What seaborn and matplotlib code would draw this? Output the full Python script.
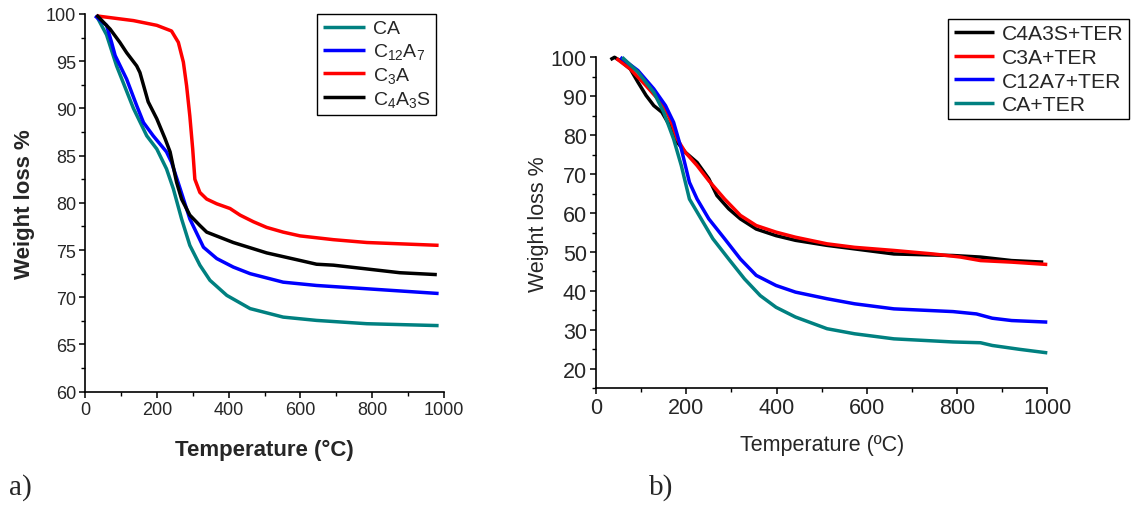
import matplotlib
matplotlib.use("Agg")
import matplotlib.pyplot as plt
from matplotlib.ticker import MultipleLocator
import pandas as pd
import seaborn as sns

# ---- a) pure phases: temperature (°C) and remaining weight (%) ----
ca_t = [32, 60, 88, 135, 172, 200, 227, 246, 269, 292, 320, 348, 395, 460, 552, 645, 785, 985]
ca_w = [99.8, 97.8, 94.5, 90.0, 87.1, 85.7, 83.6, 81.5, 78.3, 75.5, 73.4, 71.8, 70.2, 68.8, 67.9, 67.55, 67.2, 67.0]

c12a7_t = [28, 60, 74, 84, 116, 144, 163, 190, 227, 241, 265, 292, 330, 367, 413, 460, 552, 645, 785, 985]
c12a7_w = [99.8, 98.8, 97.0, 95.6, 93.1, 90.3, 88.5, 87.1, 85.4, 84.3, 81.5, 78.3, 75.3, 74.1, 73.2, 72.5, 71.6, 71.25, 70.9, 70.4]

c3a_t = [32, 135, 200, 241, 260, 274, 283, 292, 300, 306, 320, 339, 367, 404, 432, 469, 506, 552, 599, 692, 785, 985]
c3a_w = [99.8, 99.3, 98.8, 98.2, 97.0, 94.9, 92.4, 89.2, 85.7, 82.5, 81.1, 80.4, 79.9, 79.4, 78.7, 78.0, 77.4, 76.9, 76.5, 76.1, 75.8, 75.5]

c4a3s_t = [32, 70, 97, 116, 144, 153, 176, 200, 223, 237, 255, 269, 292, 320, 339, 413, 506, 599, 645, 692, 785, 877, 980]
c4a3s_w = [99.9, 98.4, 97.0, 95.9, 94.5, 93.8, 90.7, 88.9, 86.8, 85.4, 82.2, 80.4, 78.7, 77.6, 76.9, 75.8, 74.7, 73.9, 73.5, 73.4, 73.0, 72.6, 72.4]

# ---- b) phases with TER ----
c4a3s_ter_t = [32, 41, 54, 76, 93, 111, 128, 146, 163, 180, 198, 224, 250, 268, 294, 320, 355, 399, 442, 512, 573, 660, 791, 852, 921, 991]
c4a3s_ter_w = [99.4, 100.0, 99.1, 97.0, 93.6, 90.2, 87.6, 85.9, 82.5, 78.2, 75.6, 73.0, 68.8, 64.5, 61.1, 58.5, 55.9, 54.2, 53.0, 51.7, 50.8, 49.5, 49.1, 48.7, 47.8, 47.4]

c3a_ter_t = [45, 76, 111, 137, 154, 167, 180, 198, 224, 250, 285, 320, 355, 399, 442, 512, 573, 660, 747, 808, 852, 921, 1000]
c3a_ter_w = [99.7, 97.0, 92.7, 89.3, 86.7, 83.3, 79.0, 75.6, 72.2, 68.3, 63.6, 59.4, 56.8, 55.1, 53.8, 52.1, 51.2, 50.4, 49.5, 48.7, 47.8, 47.4, 46.8]

c12a7_ter_t = [54, 93, 128, 154, 172, 189, 207, 224, 250, 285, 320, 355, 399, 442, 512, 573, 660, 791, 843, 878, 921, 1000]
c12a7_ter_w = [100.0, 96.6, 91.9, 87.6, 83.3, 76.5, 67.9, 63.6, 58.5, 53.4, 48.2, 44.0, 41.4, 39.7, 38.0, 36.7, 35.4, 34.7, 34.1, 33.0, 32.4, 32.0]

ca_ter_t = [58, 93, 128, 150, 172, 189, 207, 233, 259, 294, 329, 364, 399, 442, 512, 573, 660, 791, 852, 878, 939, 1000]
ca_ter_w = [100.0, 96.2, 91.0, 85.9, 79.0, 72.2, 63.6, 58.5, 53.4, 48.2, 43.1, 38.8, 35.8, 33.3, 30.3, 29.0, 27.7, 26.9, 26.7, 26.0, 25.0, 24.1]

labels_a = ["CA", r"C$_{12}$A$_{7}$", r"C$_{3}$A", r"C$_{4}$A$_{3}$S"]
labels_b = ["C4A3S+TER", "C3A+TER", "C12A7+TER", "CA+TER"]
colors_a = ["#008080", "#0000FF", "#FF0000", "#000000"]
colors_b = ["#000000", "#FF0000", "#0000FF", "#008080"]


def frame(series, names):
    rows = []
    for (t, w), name in zip(series, names):
        rows += [{"T": x, "W": y, "sample": name} for x, y in zip(t, w)]
    return pd.DataFrame(rows)


df_a = frame([(ca_t, ca_w), (c12a7_t, c12a7_w), (c3a_t, c3a_w), (c4a3s_t, c4a3s_w)], labels_a)
df_b = frame([(c4a3s_ter_t, c4a3s_ter_w), (c3a_ter_t, c3a_ter_w),
              (c12a7_ter_t, c12a7_ter_w), (ca_ter_t, ca_ter_w)], labels_b)

sns.set_theme(style="ticks")
plt.rcParams["font.family"] = ["Liberation Sans", "DejaVu Sans"]
plt.rcParams["mathtext.fontset"] = "custom"
plt.rcParams["mathtext.rm"] = "Liberation Sans"
plt.rcParams["mathtext.it"] = "Liberation Sans"
plt.rcParams["mathtext.default"] = "regular"

fig = plt.figure(figsize=(11.37, 5.06), dpi=100)
ax_a = fig.add_axes([85 / 1137, 1 - 392.7 / 506, 359 / 1137, 377.7 / 506])
ax_b = fig.add_axes([596 / 1137, 1 - 389.3 / 506, 451.3 / 1137, 331.0 / 506])

sns.lineplot(data=df_a, x="T", y="W", hue="sample", hue_order=labels_a,
             palette=colors_a, sort=False, estimator=None, linewidth=2.5, ax=ax_a)
sns.lineplot(data=df_b, x="T", y="W", hue="sample", hue_order=labels_b,
             palette=colors_b, sort=False, estimator=None, linewidth=2.5, ax=ax_b)

for ax in (ax_a, ax_b):
    for ln in ax.get_lines():
        ln.set_clip_on(False)
        ln.set_solid_joinstyle("round")
        ln.set_solid_capstyle("butt")
    ax.set_xlim(0, 1000)
    ax.xaxis.set_major_locator(MultipleLocator(200))
    ax.xaxis.set_minor_locator(MultipleLocator(100))
    for side in ("top", "right"):
        ax.spines[side].set_visible(False)
    for side in ("left", "bottom"):
        ax.spines[side].set_color("black")
        ax.spines[side].set_linewidth(1.2)
    ax.tick_params(which="major", direction="out", length=4.5, width=1.1, color="black")
    ax.tick_params(which="minor", direction="out", length=2.8, width=1.0, color="black")

# panel a
ax_a.set_ylim(60, 100)
ax_a.yaxis.set_major_locator(MultipleLocator(5))
ax_a.yaxis.set_minor_locator(MultipleLocator(2.5))
ax_a.tick_params(labelsize=13, pad=2)
ax_a.set_xlabel("Temperature (°C)", fontsize=16, fontweight="bold", labelpad=15)
ax_a.set_ylabel("Weight loss %", fontsize=16, fontweight="bold", labelpad=8)
h, l = ax_a.get_legend_handles_labels()
ax_a.legend(h, l, loc="upper right", bbox_to_anchor=(0.978, 1.0), fontsize=14,
            frameon=True, fancybox=False, edgecolor="black", framealpha=1,
            handlelength=2.15, handletextpad=0.4, borderpad=0.3, labelspacing=0.2,
            borderaxespad=0)
ax_a.get_legend().get_frame().set_linewidth(1.0)

# panel b
ax_b.set_ylim(15, 100)
ax_b.yaxis.set_major_locator(MultipleLocator(10))
ax_b.yaxis.set_minor_locator(MultipleLocator(5))
ax_b.tick_params(labelsize=15.5, pad=2)
ax_b.set_xlabel("Temperature (ºC)", fontsize=15.5, labelpad=11)
ax_b.set_ylabel("Weight loss %", fontsize=15.5, labelpad=1)
h, l = ax_b.get_legend_handles_labels()
ax_b.legend(h, l, loc="upper right", bbox_to_anchor=(1129 / 1137, 1 - 20 / 506),
            bbox_transform=fig.transFigure, fontsize=15.2,
            frameon=True, fancybox=False, edgecolor="black", framealpha=1,
            handlelength=1.9, handletextpad=0.4, borderpad=0.25, labelspacing=0.22,
            borderaxespad=0)
ax_b.get_legend().get_frame().set_linewidth(1.0)

fig.text(9 / 1137, 1 - 495 / 506, "a)", fontsize=21, family="Liberation Serif", va="baseline")
fig.text(649 / 1137, 1 - 495 / 506, "b)", fontsize=21, family="Liberation Serif", va="baseline")

fig.savefig("out.png", dpi=100, facecolor="white")
